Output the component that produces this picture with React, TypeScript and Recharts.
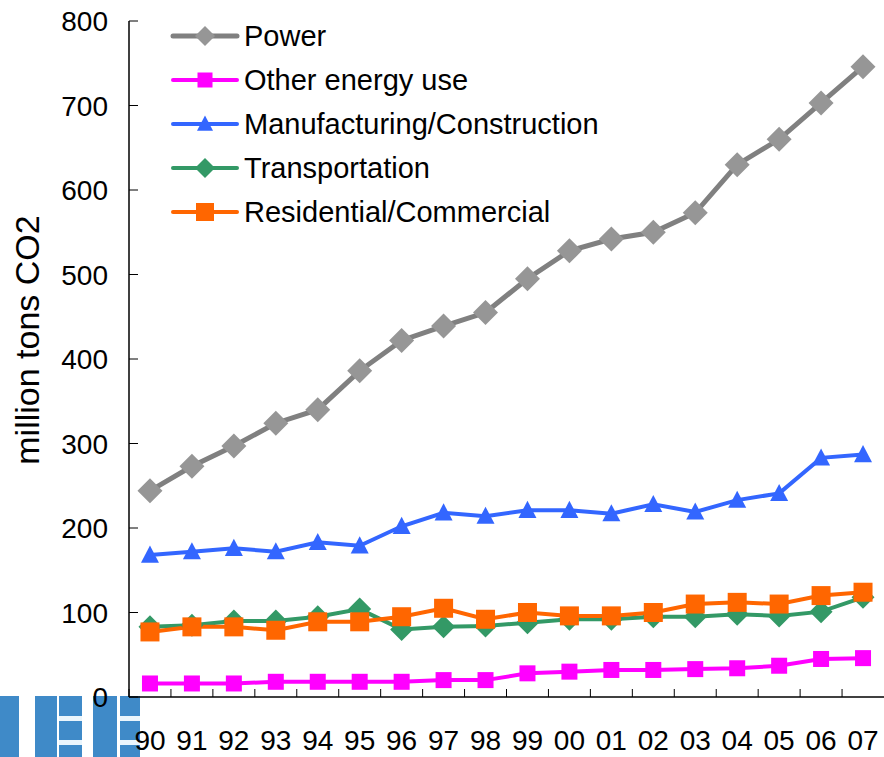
import React from 'react';
import { LineChart, Line, XAxis, YAxis, Legend } from 'recharts';

const years = ['90', '91', '92', '93', '94', '95', '96', '97', '98', '99', '00', '01', '02', '03', '04', '05', '06', '07'];
const power = [244, 273, 297, 324, 340, 386, 422, 439, 455, 495, 528, 542, 550, 573, 630, 660, 703, 746];
const otherEnergy = [16, 16, 16, 18, 18, 18, 18, 20, 20, 28, 30, 32, 32, 33, 34, 37, 45, 46];
const manufacturing = [168, 172, 176, 172, 183, 179, 202, 218, 214, 221, 221, 217, 228, 219, 233, 241, 283, 287];
const transportation = [83, 85, 90, 90, 95, 104, 80, 83, 84, 88, 92, 92, 95, 95, 98, 96, 101, 118];
const residential = [77, 83, 83, 79, 89, 89, 95, 105, 92, 100, 96, 96, 100, 110, 112, 110, 120, 124];
const yTicks = [0, 100, 200, 300, 400, 500, 600, 700, 800];

const data = years.map((year, i) => ({
  year,
  power: power[i],
  other: otherEnergy[i],
  manufacturing: manufacturing[i],
  transportation: transportation[i],
  residential: residential[i],
}));

const W = 884;
const H = 757;
const AXIS_LEFT = 129;
const AXIS_BOTTOM = 697;
const HALF = (W - AXIS_LEFT) / years.length / 2;
const FONT = 'Liberation Sans, Arial, sans-serif';

type Shape = 'diamond' | 'square' | 'triangle';

const series: { key: string; name: string; stroke: string; fill: string; width: number; shape: Shape; size: number; legendSize: number }[] = [
  { key: 'power', name: 'Power', stroke: '#808080', fill: '#969696', width: 5, shape: 'diamond', size: 12.5, legendSize: 10 },
  { key: 'other', name: 'Other energy use', stroke: '#FF00FF', fill: '#FF00FF', width: 4, shape: 'square', size: 8, legendSize: 7.5 },
  { key: 'manufacturing', name: 'Manufacturing/Construction', stroke: '#3366FF', fill: '#3366FF', width: 4, shape: 'triangle', size: 9, legendSize: 8 },
  { key: 'transportation', name: 'Transportation', stroke: '#339966', fill: '#339966', width: 4, shape: 'diamond', size: 11.5, legendSize: 10 },
  { key: 'residential', name: 'Residential/Commercial', stroke: '#FF6600', fill: '#FF6600', width: 4, shape: 'square', size: 9.5, legendSize: 9 },
];

function Marker({ cx, cy, shape, s, fill }: { cx: number; cy: number; shape: Shape; s: number; fill: string }) {
  if (shape === 'diamond') {
    return <polygon points={`${cx},${cy - s} ${cx + s},${cy} ${cx},${cy + s} ${cx - s},${cy}`} fill={fill} />;
  }
  if (shape === 'square') {
    return <rect x={cx - s} y={cy - s} width={s * 2} height={s * 2} fill={fill} />;
  }
  return <polygon points={`${cx},${cy - s * 1.05} ${cx + s},${cy + s * 0.85} ${cx - s},${cy + s * 0.85}`} fill={fill} />;
}

const XTick = (props: any) => {
  const { x, y, payload } = props;
  return (
    <g>
      <line x1={x - HALF} x2={x - HALF} y1={y} y2={y - 8} stroke="#000" strokeWidth={1} />
      <text x={x} y={y + 53} textAnchor="middle" fontSize={28} fontFamily={FONT} fill="#000">
        {payload.value}
      </text>
    </g>
  );
};

const YTick = (props: any) => {
  const { x, y, payload } = props;
  return (
    <g>
      <line x1={x} x2={x + 9} y1={y} y2={y} stroke="#000" strokeWidth={1} />
      <text x={x - 21} y={y} dy="0.36em" textAnchor="end" fontSize={28} fontFamily={FONT} fill="#000">
        {payload.value}
      </text>
    </g>
  );
};

const YLabel = () => (
  <text
    x={39}
    y={340}
    transform="rotate(-90, 39, 340)"
    textAnchor="middle"
    fontSize={34}
    fontFamily={FONT}
    fill="#000"
  >
    million tons CO2
  </text>
);

const LegendBox = () => (
  <svg width={480} height={210}>
    {series.map((s, i) => {
      const cy = 18 + i * 44;
      return (
        <g key={s.key}>
          <line x1={23} x2={87} y1={cy} y2={cy} stroke={s.stroke} strokeWidth={s.width} strokeLinecap="round" />
          <Marker cx={55} cy={cy} shape={s.shape} s={s.legendSize} fill={s.fill} />
          <text x={94} y={cy} dy="0.36em" fontSize={29} fontFamily={FONT} fill="#000">
            {s.name}
          </text>
        </g>
      );
    })}
  </svg>
);

function Logo() {
  const blue = '#3F8AC8';
  const bar = '#EAF5FC';
  const cols = [
    [0, 19, false],
    [35, 22, false],
    [59, 23, true],
    [93, 24, false],
    [120, 20, true],
  ] as [number, number, boolean][];
  return (
    <div style={{ position: 'absolute', left: 0, top: 696, width: 140, height: 61 }}>
      {cols.map(([l, w, bars], i) => (
        <div key={i} style={{ position: 'absolute', left: l, top: 0, width: w, height: 61, background: blue }}>
          {bars && (
            <>
              <div style={{ position: 'absolute', left: 0, top: 20, width: w, height: 5, background: bar }} />
              <div style={{ position: 'absolute', left: 0, top: 44, width: w, height: 5, background: bar }} />
            </>
          )}
        </div>
      ))}
    </div>
  );
}

export default function App() {
  return (
    <div style={{ position: 'absolute', left: 0, top: 0, width: W, height: H, background: '#fff', overflow: 'hidden' }}>
      <Logo />
      <div style={{ position: 'absolute', left: 0, top: 0 }}>
        <LineChart width={W} height={H} data={data} margin={{ top: 21, right: 0, bottom: 0, left: 0 }}>
          <XAxis
            dataKey="year"
            height={H - AXIS_BOTTOM}
            padding={{ left: HALF, right: HALF }}
            tickSize={0}
            tickMargin={0}
            tickLine={false}
            axisLine={{ stroke: '#000', strokeWidth: 1.5 }}
            tick={XTick}
            interval={0}
          />
          <YAxis
            width={AXIS_LEFT}
            domain={[0, 800]}
            ticks={yTicks}
            tickSize={0}
            tickMargin={0}
            tickLine={false}
            axisLine={{ stroke: '#000', strokeWidth: 1.5 }}
            tick={YTick}
            interval={0}
            label={<YLabel />}
          />
          <Legend
            layout="vertical"
            align="center"
            verticalAlign="middle"
            content={LegendBox}
            wrapperStyle={{ position: 'absolute', left: 150, top: 18, width: 480, height: 210 }}
          />
          {series.map((s) => (
            <Line
              key={s.key}
              dataKey={s.key}
              name={s.name}
              stroke={s.stroke}
              strokeWidth={s.width}
              isAnimationActive={false}
              activeDot={false}
              dot={(p: any) => <Marker key={`${s.key}-${p.index}`} cx={p.cx} cy={p.cy} shape={s.shape} s={s.size} fill={s.fill} />}
            />
          ))}
        </LineChart>
      </div>
    </div>
  );
}
